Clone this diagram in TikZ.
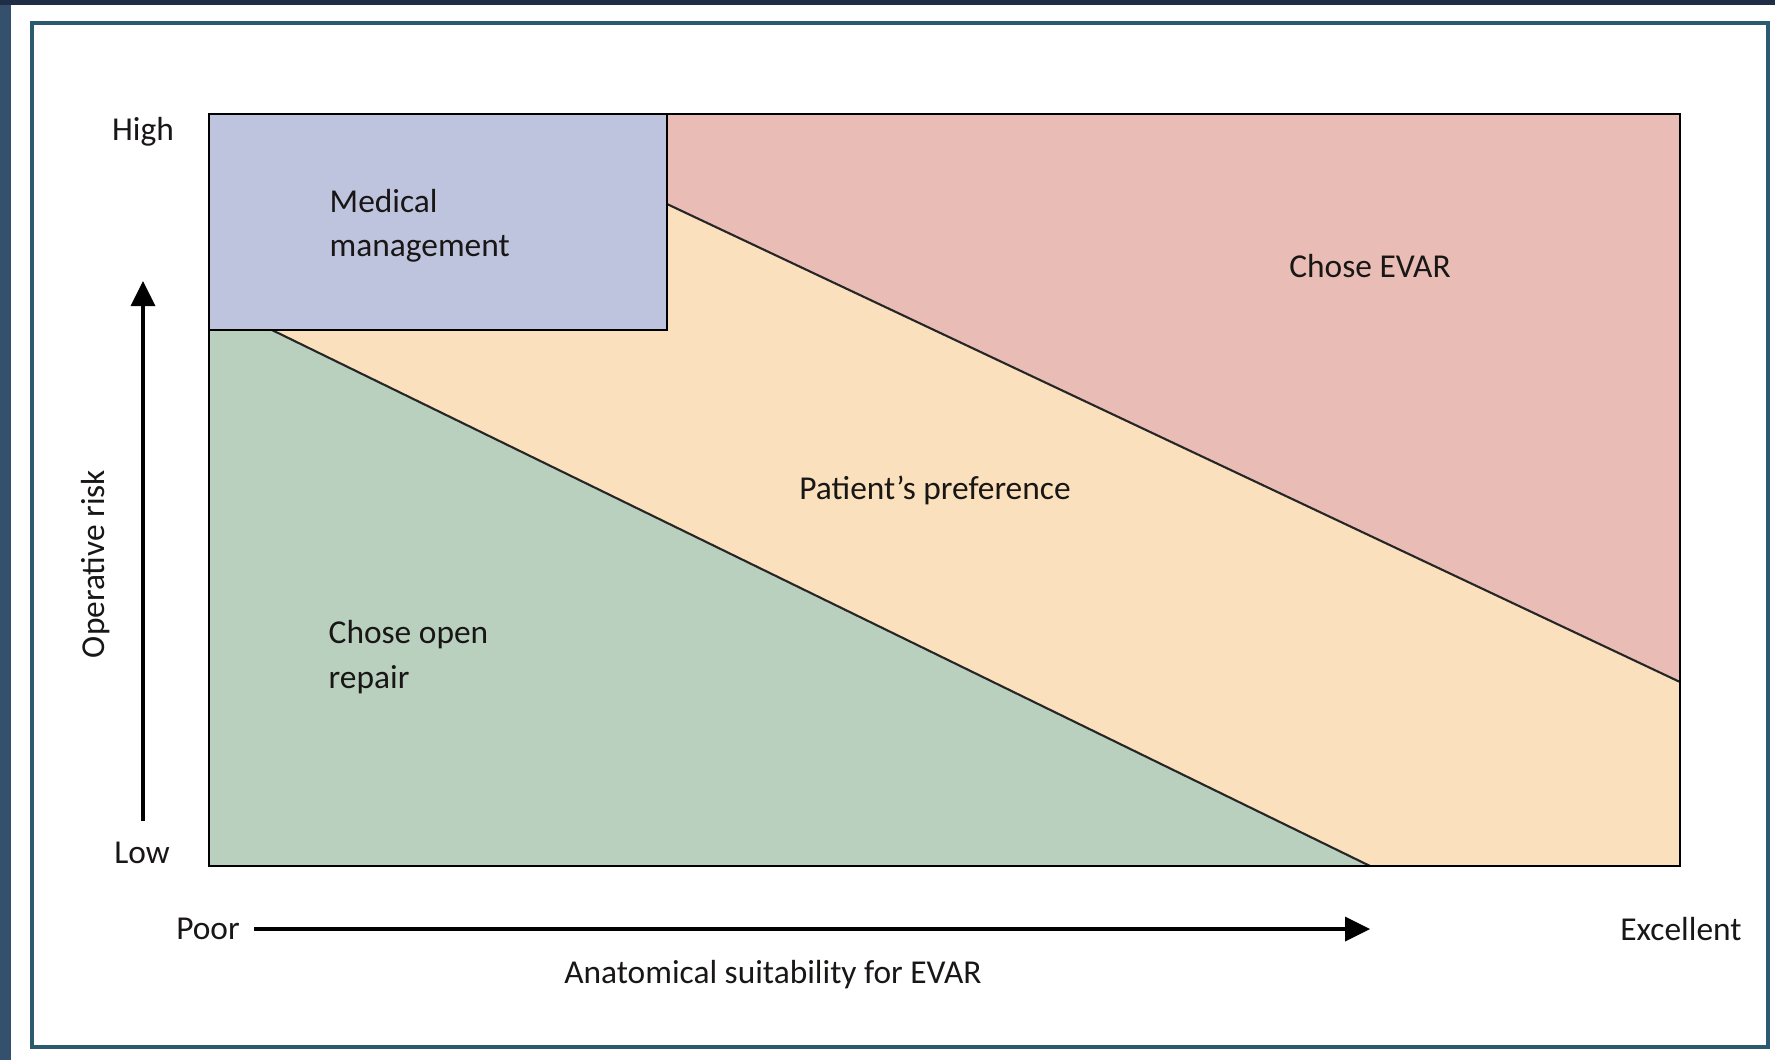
\documentclass[tikz,border=0pt]{standalone}
\usepackage{fontspec}
\setmainfont{Carlito}
\usepackage{tikz}

\definecolor{pagenavy}{RGB}{31,46,70}
\definecolor{pageblue}{RGB}{52,80,108}
\definecolor{framecol}{RGB}{43,90,112}
\definecolor{medcol}{RGB}{191,196,222}
\definecolor{evarcol}{RGB}{233,189,182}
\definecolor{prefcol}{RGB}{250,224,188}
\definecolor{opencol}{RGB}{185,208,190}
\definecolor{textcol}{RGB}{25,22,22}

\begin{document}
\begin{tikzpicture}[x=0.01cm, y=0.01cm]
			\tikzstyle{every node}+=[inner sep=0pt, text=textcol, font=\fontsize{9.5}{12.6}\selectfont]
			\useasboundingbox (0,0) rectangle (1775,-1060);
			% page and frame
			\fill [pageblue] (0,0) rectangle (1775,-1060);
			\fill [pagenavy] (0,0) rectangle (1775,-5);
			\fill [white] (11,-5) rectangle (1775,-1060);
			\draw [framecol, line width=1.1pt] (32,-23) rectangle (1768,-1047);
			% corners of the regions
			\coordinate (tl) at (209,-114);
			\coordinate (tr) at (1680,-114);
			\coordinate (br) at (1680,-866);
			\coordinate (bl) at (209,-866);
			\coordinate (medbr) at (667,-330);
			\coordinate (medl) at (209,-330);
			\coordinate (lowtop) at (272,-330);
			\coordinate (lowend) at (1370,-866);
			\coordinate (uptop) at (667,-204);
			\coordinate (upend) at (1680,-682);
			% regions
			\fill [prefcol] (tl) rectangle (br);
			\fill [evarcol] (uptop) -- (667,-114) -- (tr) -- (upend) -- cycle;
			\fill [opencol] (medl) -- (lowtop) -- (lowend) -- (bl) -- cycle;
			\fill [medcol] (tl) rectangle (medbr);
			\draw [black!85, line width=0.6pt] (lowtop) -- (lowend);
			\draw [black!85, line width=0.6pt] (uptop) -- (upend);
			\draw [black, line width=0.8pt] (tl) rectangle (medbr);
			\draw [black, line width=0.8pt] (tl) rectangle (br);
			% region labels
			\draw (329,-226) node (med) [anchor=west, align=left] {Medical\\management};
			\draw (1370,-266) node (evar) {Chose EVAR};
			\draw (935,-490) node (pref) {Patient's preference};
			\draw (328,-657) node (open) [anchor=west, align=left] {Chose open\\repair};
			% operative risk axis
			\draw (143,-132) node (high) {High};
			\draw (142,-853) node (low) {Low};
			\draw (96,-564) node (risk) [rotate=90] {Operative risk};
			\coordinate (ytail) at (143,-821);
			\coordinate (ybase) at (143,-304);
			\coordinate (ytip) at (143,-281);
			\draw [black, line width=1.1pt] (ytail) -- (ybase);
			\fill [black] (ytip) -- ++(-12.5,-25) -- ++(25,0) -- cycle;
			% anatomical suitability axis
			\draw (208,-929) node (poor) {Poor};
			\draw (1681,-929) node (excel) {Excellent};
			\draw (773,-975) node (suit) {Anatomical suitability for EVAR};
			\coordinate (xtail) at (254,-929);
			\coordinate (xbase) at (1347,-929);
			\coordinate (xtip) at (1370,-929);
			\draw [black, line width=1.1pt] (xtail) -- (xbase);
			\fill [black] (xtip) -- ++(-25,12.5) -- ++(0,-25) -- cycle;
\end{tikzpicture}
\end{document}
